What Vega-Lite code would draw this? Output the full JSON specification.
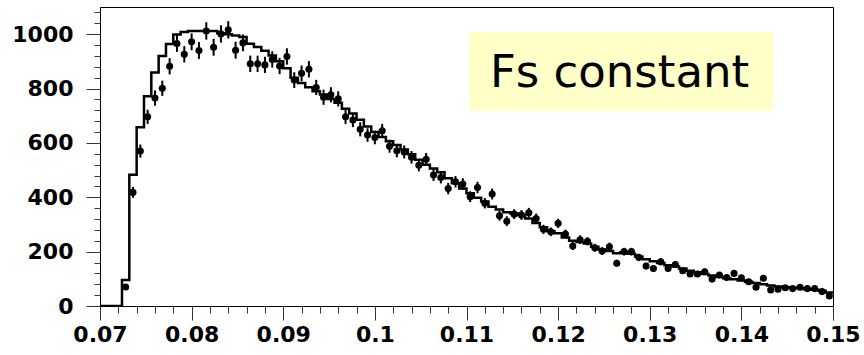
{
  "$schema": "https://vega.github.io/schema/vega-lite/v6.json",
  "width": 733,
  "height": 299,
  "autosize": "none",
  "padding": {"left": 100, "top": 7, "right": 31, "bottom": 49},
  "background": "white",
  "config": {
    "view": {"stroke": "black", "strokeWidth": 1},
    "axis": {"grid": false, "domainColor": "black", "domainWidth": 1, "tickColor": "#333", "tickWidth": 1, "labelFont": "DejaVu Sans", "labelFontWeight": "bold", "labelFontSize": 22, "labelColor": "black", "title": null}
  },
  "datasets": {
    "hist": [
      {"x": 0.07, "mc": 0}, {"x": 0.0708, "mc": 0}, {"x": 0.0716, "mc": 0}, {"x": 0.0724, "mc": 96}, {"x": 0.0732, "mc": 483},
      {"x": 0.074, "mc": 658}, {"x": 0.0748, "mc": 772}, {"x": 0.0756, "mc": 859}, {"x": 0.0764, "mc": 920}, {"x": 0.0772, "mc": 964},
      {"x": 0.078, "mc": 999}, {"x": 0.0788, "mc": 1008}, {"x": 0.0796, "mc": 1012}, {"x": 0.0804, "mc": 1012}, {"x": 0.0812, "mc": 1012},
      {"x": 0.082, "mc": 1012}, {"x": 0.0828, "mc": 1003}, {"x": 0.0836, "mc": 1000}, {"x": 0.0844, "mc": 995}, {"x": 0.0852, "mc": 990},
      {"x": 0.086, "mc": 965}, {"x": 0.0868, "mc": 953}, {"x": 0.0876, "mc": 939}, {"x": 0.0884, "mc": 922}, {"x": 0.0892, "mc": 900},
      {"x": 0.09, "mc": 875}, {"x": 0.0908, "mc": 840}, {"x": 0.0916, "mc": 820}, {"x": 0.0924, "mc": 805}, {"x": 0.0932, "mc": 790},
      {"x": 0.094, "mc": 778}, {"x": 0.0948, "mc": 762}, {"x": 0.0956, "mc": 748}, {"x": 0.0964, "mc": 726}, {"x": 0.0972, "mc": 708},
      {"x": 0.098, "mc": 685}, {"x": 0.0988, "mc": 660}, {"x": 0.0996, "mc": 640}, {"x": 0.1004, "mc": 622}, {"x": 0.1012, "mc": 606},
      {"x": 0.102, "mc": 592}, {"x": 0.1028, "mc": 576}, {"x": 0.1036, "mc": 558}, {"x": 0.1044, "mc": 538}, {"x": 0.1052, "mc": 520},
      {"x": 0.106, "mc": 506}, {"x": 0.1068, "mc": 492}, {"x": 0.1076, "mc": 470}, {"x": 0.1084, "mc": 452}, {"x": 0.1092, "mc": 432},
      {"x": 0.11, "mc": 415}, {"x": 0.1108, "mc": 398}, {"x": 0.1116, "mc": 384}, {"x": 0.1124, "mc": 365}, {"x": 0.1132, "mc": 355},
      {"x": 0.114, "mc": 345}, {"x": 0.1148, "mc": 340}, {"x": 0.1156, "mc": 335}, {"x": 0.1164, "mc": 322}, {"x": 0.1172, "mc": 305},
      {"x": 0.118, "mc": 290}, {"x": 0.1188, "mc": 275}, {"x": 0.1196, "mc": 268}, {"x": 0.1204, "mc": 252}, {"x": 0.1212, "mc": 240},
      {"x": 0.122, "mc": 235}, {"x": 0.1228, "mc": 230}, {"x": 0.1236, "mc": 218}, {"x": 0.1244, "mc": 208}, {"x": 0.1252, "mc": 202},
      {"x": 0.126, "mc": 194}, {"x": 0.1268, "mc": 198}, {"x": 0.1276, "mc": 192}, {"x": 0.1284, "mc": 182}, {"x": 0.1292, "mc": 172},
      {"x": 0.13, "mc": 165}, {"x": 0.1308, "mc": 158}, {"x": 0.1316, "mc": 150}, {"x": 0.1324, "mc": 145}, {"x": 0.1332, "mc": 138},
      {"x": 0.134, "mc": 130}, {"x": 0.1348, "mc": 124}, {"x": 0.1356, "mc": 118}, {"x": 0.1364, "mc": 112}, {"x": 0.1372, "mc": 107},
      {"x": 0.138, "mc": 102}, {"x": 0.1388, "mc": 98}, {"x": 0.1396, "mc": 94}, {"x": 0.1404, "mc": 89}, {"x": 0.1412, "mc": 85},
      {"x": 0.142, "mc": 80}, {"x": 0.1428, "mc": 75}, {"x": 0.1436, "mc": 72}, {"x": 0.1444, "mc": 69}, {"x": 0.1452, "mc": 67},
      {"x": 0.146, "mc": 65}, {"x": 0.1468, "mc": 62}, {"x": 0.1476, "mc": 60}, {"x": 0.1484, "mc": 56}, {"x": 0.1492, "mc": 50},
      {"x": 0.15, "mc": 50}
    ],
    "pts": [
      {"x": 0.0728, "n": 70, "lo": 62, "hi": 78}, {"x": 0.0736, "n": 418, "lo": 398, "hi": 438}, {"x": 0.0744, "n": 570, "lo": 546, "hi": 594},
      {"x": 0.0752, "n": 696, "lo": 670, "hi": 722}, {"x": 0.076, "n": 765, "lo": 737, "hi": 793}, {"x": 0.0768, "n": 801, "lo": 773, "hi": 829},
      {"x": 0.0776, "n": 882, "lo": 852, "hi": 912}, {"x": 0.0784, "n": 966, "lo": 935, "hi": 997}, {"x": 0.0792, "n": 926, "lo": 896, "hi": 956},
      {"x": 0.08, "n": 972, "lo": 941, "hi": 1003}, {"x": 0.0808, "n": 940, "lo": 909, "hi": 971}, {"x": 0.0816, "n": 1012, "lo": 980, "hi": 1044},
      {"x": 0.0824, "n": 952, "lo": 921, "hi": 983}, {"x": 0.0832, "n": 1001, "lo": 969, "hi": 1033}, {"x": 0.084, "n": 1016, "lo": 984, "hi": 1048},
      {"x": 0.0848, "n": 941, "lo": 910, "hi": 972}, {"x": 0.0856, "n": 968, "lo": 937, "hi": 999}, {"x": 0.0864, "n": 891, "lo": 861, "hi": 921},
      {"x": 0.0872, "n": 891, "lo": 861, "hi": 921}, {"x": 0.088, "n": 887, "lo": 857, "hi": 917}, {"x": 0.0888, "n": 907, "lo": 877, "hi": 937},
      {"x": 0.0896, "n": 883, "lo": 853, "hi": 913}, {"x": 0.0904, "n": 918, "lo": 888, "hi": 948}, {"x": 0.0912, "n": 831, "lo": 802, "hi": 860},
      {"x": 0.092, "n": 856, "lo": 827, "hi": 885}, {"x": 0.0928, "n": 871, "lo": 841, "hi": 901}, {"x": 0.0936, "n": 804, "lo": 776, "hi": 832},
      {"x": 0.0944, "n": 768, "lo": 740, "hi": 796}, {"x": 0.0952, "n": 777, "lo": 749, "hi": 805}, {"x": 0.096, "n": 762, "lo": 734, "hi": 790},
      {"x": 0.0968, "n": 696, "lo": 670, "hi": 722}, {"x": 0.0976, "n": 684, "lo": 658, "hi": 710}, {"x": 0.0984, "n": 650, "lo": 624, "hi": 676},
      {"x": 0.0992, "n": 629, "lo": 604, "hi": 654}, {"x": 0.1, "n": 620, "lo": 595, "hi": 645}, {"x": 0.1008, "n": 645, "lo": 620, "hi": 670},
      {"x": 0.1016, "n": 588, "lo": 564, "hi": 612}, {"x": 0.1024, "n": 571, "lo": 547, "hi": 595}, {"x": 0.1032, "n": 567, "lo": 543, "hi": 591},
      {"x": 0.104, "n": 547, "lo": 524, "hi": 570}, {"x": 0.1048, "n": 518, "lo": 495, "hi": 541}, {"x": 0.1056, "n": 540, "lo": 517, "hi": 563},
      {"x": 0.1064, "n": 482, "lo": 460, "hi": 504}, {"x": 0.1072, "n": 473, "lo": 451, "hi": 495}, {"x": 0.108, "n": 432, "lo": 411, "hi": 453},
      {"x": 0.1088, "n": 457, "lo": 436, "hi": 478}, {"x": 0.1096, "n": 449, "lo": 428, "hi": 470}, {"x": 0.1104, "n": 402, "lo": 382, "hi": 422},
      {"x": 0.1112, "n": 436, "lo": 415, "hi": 457}, {"x": 0.112, "n": 378, "lo": 359, "hi": 397}, {"x": 0.1128, "n": 412, "lo": 392, "hi": 432},
      {"x": 0.1136, "n": 332, "lo": 314, "hi": 350}, {"x": 0.1144, "n": 312, "lo": 294, "hi": 330}, {"x": 0.1152, "n": 338, "lo": 320, "hi": 356},
      {"x": 0.116, "n": 335, "lo": 317, "hi": 353}, {"x": 0.1168, "n": 343, "lo": 325, "hi": 361}, {"x": 0.1176, "n": 322, "lo": 304, "hi": 340},
      {"x": 0.1184, "n": 282, "lo": 265, "hi": 299}, {"x": 0.1192, "n": 273, "lo": 257, "hi": 289}, {"x": 0.12, "n": 304, "lo": 287, "hi": 321},
      {"x": 0.1208, "n": 265, "lo": 249, "hi": 281}, {"x": 0.1216, "n": 221, "lo": 206, "hi": 236}, {"x": 0.1224, "n": 244, "lo": 228, "hi": 260},
      {"x": 0.1232, "n": 238, "lo": 223, "hi": 253}, {"x": 0.124, "n": 214, "lo": 199, "hi": 229}, {"x": 0.1248, "n": 202, "lo": 188, "hi": 216},
      {"x": 0.1256, "n": 218, "lo": 203, "hi": 233}, {"x": 0.1264, "n": 157, "lo": 145, "hi": 170}, {"x": 0.1272, "n": 200, "lo": 186, "hi": 214},
      {"x": 0.128, "n": 200, "lo": 186, "hi": 214}, {"x": 0.1288, "n": 179, "lo": 166, "hi": 192}, {"x": 0.1296, "n": 147, "lo": 135, "hi": 159},
      {"x": 0.1304, "n": 138, "lo": 126, "hi": 150}, {"x": 0.1312, "n": 163, "lo": 150, "hi": 176}, {"x": 0.132, "n": 138, "lo": 126, "hi": 150},
      {"x": 0.1328, "n": 153, "lo": 141, "hi": 165}, {"x": 0.1336, "n": 130, "lo": 119, "hi": 141}, {"x": 0.1344, "n": 118, "lo": 107, "hi": 129},
      {"x": 0.1352, "n": 118, "lo": 107, "hi": 129}, {"x": 0.136, "n": 126, "lo": 115, "hi": 137}, {"x": 0.1368, "n": 99, "lo": 89, "hi": 109},
      {"x": 0.1376, "n": 114, "lo": 103, "hi": 125}, {"x": 0.1384, "n": 105, "lo": 95, "hi": 115}, {"x": 0.1392, "n": 120, "lo": 109, "hi": 131},
      {"x": 0.14, "n": 104, "lo": 94, "hi": 114}, {"x": 0.1408, "n": 89, "lo": 80, "hi": 98}, {"x": 0.1416, "n": 69, "lo": 61, "hi": 77},
      {"x": 0.1424, "n": 102, "lo": 92, "hi": 112}, {"x": 0.1432, "n": 59, "lo": 51, "hi": 67}, {"x": 0.144, "n": 62, "lo": 54, "hi": 70},
      {"x": 0.1448, "n": 67, "lo": 59, "hi": 75}, {"x": 0.1456, "n": 64, "lo": 56, "hi": 72}, {"x": 0.1464, "n": 69, "lo": 61, "hi": 77},
      {"x": 0.1472, "n": 64, "lo": 56, "hi": 72}, {"x": 0.148, "n": 64, "lo": 56, "hi": 72}, {"x": 0.1488, "n": 53, "lo": 46, "hi": 60},
      {"x": 0.1496, "n": 37, "lo": 31, "hi": 43}
    ]
  },
  "resolve": {"axis": {"x": "independent", "y": "independent"}},
  "layer": [
    {
      "data": {"name": "hist"},
      "mark": {"type": "line", "interpolate": "step-after", "color": "black", "strokeWidth": 2.5, "clip": true},
      "encoding": {
        "x": {"field": "x", "type": "quantitative",
          "scale": {"domain": [0.07, 0.15], "nice": false, "zero": false},
          "axis": {"orient": "bottom", "values": [0.07, 0.08, 0.09, 0.1, 0.11, 0.12, 0.13, 0.14, 0.15], "format": "~g", "tickSize": 14, "labelPadding": 4, "labelFlush": false, "labelOverlap": false}},
        "y": {"field": "mc", "type": "quantitative",
          "scale": {"domain": [0, 1100], "nice": false, "zero": true},
          "axis": {"orient": "left", "values": [0, 200, 400, 600, 800, 1000], "format": "d", "tickSize": 14, "labelPadding": 13, "labelOverlap": false}}
      }
    },
    {
      "data": {"name": "pts"},
      "mark": {"type": "rule", "color": "black", "strokeWidth": 2},
      "encoding": {
        "x": {"field": "x", "type": "quantitative",
          "axis": {"orient": "bottom", "values": [0.07, 0.072, 0.074, 0.076, 0.078, 0.08, 0.082, 0.084, 0.086, 0.088, 0.09, 0.092, 0.094, 0.096, 0.098, 0.1, 0.102, 0.104, 0.106, 0.108, 0.11, 0.112, 0.114, 0.116, 0.118, 0.12, 0.122, 0.124, 0.126, 0.128, 0.13, 0.132, 0.134, 0.136, 0.138, 0.14, 0.142, 0.144, 0.146, 0.148, 0.15], "tickSize": 7, "labels": false, "domain": false}},
        "y": {"field": "lo", "type": "quantitative",
          "axis": {"orient": "left", "values": [0, 40, 80, 120, 160, 200, 240, 280, 320, 360, 400, 440, 480, 520, 560, 600, 640, 680, 720, 760, 800, 840, 880, 920, 960, 1000, 1040, 1080], "tickSize": 6, "labels": false, "domain": false}},
        "y2": {"field": "hi"}
      }
    },
    {
      "data": {"name": "pts"},
      "mark": {"type": "point", "shape": "circle", "filled": true, "color": "black", "opacity": 1, "size": 50},
      "encoding": {
        "x": {"field": "x", "type": "quantitative", "axis": null},
        "y": {"field": "n", "type": "quantitative", "axis": null}
      }
    },
    {
      "data": {"values": [{}]},
      "mark": {"type": "rect", "fill": "#ffffc8"},
      "encoding": {
        "x": {"datum": 0.1103, "type": "quantitative", "axis": null},
        "x2": {"datum": 0.1435},
        "y": {"datum": 1008, "type": "quantitative", "axis": null},
        "y2": {"datum": 718}
      }
    },
    {
      "data": {"values": [{}]},
      "mark": {"type": "text", "text": "Fs constant", "font": "DejaVu Sans", "fontSize": 45, "align": "center", "baseline": "alphabetic", "color": "black"},
      "encoding": {
        "x": {"datum": 0.1267, "type": "quantitative", "axis": null},
        "y": {"datum": 806, "type": "quantitative", "axis": null}
      }
    }
  ]
}
